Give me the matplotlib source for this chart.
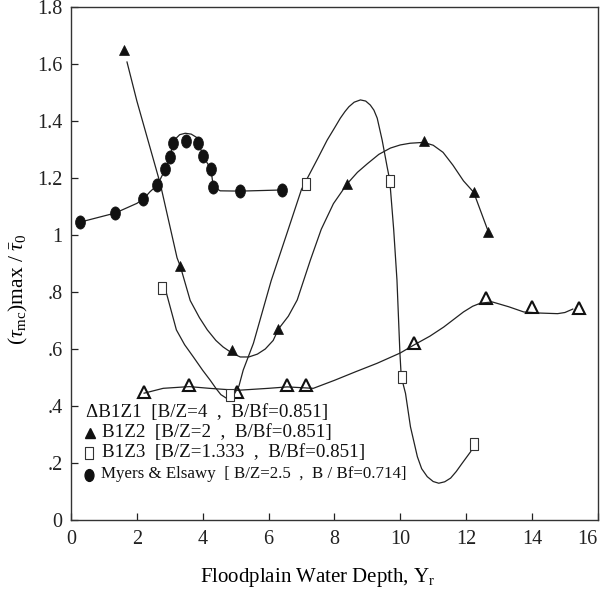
import numpy as np
import matplotlib
matplotlib.use("Agg")
import matplotlib.pyplot as plt
from matplotlib.path import Path
from matplotlib.markers import MarkerStyle

plt.rcParams['font.family'] = ['Liberation Serif', 'DejaVu Serif']
plt.rcParams['mathtext.fontset'] = 'custom'
plt.rcParams['mathtext.rm'] = 'Liberation Serif'
plt.rcParams['mathtext.it'] = 'Liberation Serif:italic'
plt.rcParams['mathtext.bf'] = 'Liberation Serif:bold'

# measured points (markers)
b1z1_x = [2.22, 3.59, 5.05, 6.57, 7.15, 10.43, 12.59, 13.99, 15.42]
b1z1_y = [0.449, 0.474, 0.449, 0.474, 0.474, 0.62, 0.778, 0.747, 0.744]

b1z2_x = [1.61, 3.32, 4.90, 6.30, 8.39, 10.71, 12.23, 12.68]
b1z2_y = [1.65, 0.89, 0.596, 0.67, 1.18, 1.33, 1.151, 1.01]

b1z3_x = [2.77, 4.84, 7.15, 9.70, 10.04, 12.23]
b1z3_y = [0.813, 0.44, 1.18, 1.19, 0.503, 0.266]

myers_x = [0.27, 1.34, 2.20, 2.62, 2.86, 3.01, 3.09, 3.49, 3.87, 4.01, 4.25, 4.32, 5.14, 6.42]
myers_y = [1.045, 1.077, 1.126, 1.175, 1.23, 1.274, 1.323, 1.33, 1.323, 1.277, 1.231, 1.17, 1.154, 1.158]

# fitted curves
b1z1_cx = [2.22, 2.8, 3.59, 4.2, 5.05, 6.0, 6.57, 7.36, 8.0, 8.64, 9.3, 10.0, 10.43, 10.9,
           11.32, 11.92, 12.2, 12.44, 12.8, 13.3, 13.75, 14.27, 14.78, 15.0, 15.24]
b1z1_cy = [0.445, 0.462, 0.468, 0.462, 0.455, 0.462, 0.467, 0.462, 0.49, 0.52, 0.55, 0.586,
           0.615, 0.645, 0.677, 0.73, 0.75, 0.761, 0.765, 0.748, 0.73, 0.726, 0.724, 0.728, 0.74]

b1z2_cx = [1.70, 2.0, 2.71, 3.22, 3.32, 3.62, 3.9, 4.14, 4.4, 4.62, 4.9, 5.14, 5.4, 5.66,
           5.9, 6.14, 6.3, 6.6, 6.87, 7.07, 7.27, 7.6, 7.97, 8.39, 8.7, 9.0, 9.35, 9.7,
           10.0, 10.3, 10.71, 11.0, 11.3, 11.6, 11.92, 12.23, 12.68]
b1z2_cy = [1.607, 1.47, 1.18, 0.92, 0.89, 0.77, 0.71, 0.667, 0.63, 0.607, 0.585, 0.572,
           0.572, 0.582, 0.6, 0.63, 0.67, 0.715, 0.772, 0.842, 0.912, 1.02, 1.11, 1.18,
           1.22, 1.25, 1.283, 1.305, 1.316, 1.322, 1.325, 1.315, 1.29, 1.245, 1.19, 1.15, 1.01]

b1z3_cx = [2.9, 3.2, 3.45, 3.71, 4.0, 4.23, 4.4, 4.55, 4.75, 4.95, 5.1, 5.23, 5.54, 6.08,
           6.57, 7.0, 7.15, 7.5, 7.78, 8.0, 8.18, 8.32, 8.44, 8.6, 8.79, 8.95, 9.09, 9.2,
           9.3, 9.45, 9.6, 9.68, 9.8, 9.9, 9.99, 10.03, 10.16, 10.31, 10.52, 10.65, 10.82,
           11.0, 11.17, 11.35, 11.53, 11.7, 11.88, 12.14, 12.22]
b1z3_cy = [0.795, 0.667, 0.615, 0.573, 0.525, 0.49, 0.462, 0.44, 0.425, 0.44, 0.47, 0.526,
           0.62, 0.84, 1.01, 1.16, 1.193, 1.27, 1.333, 1.375, 1.41, 1.433, 1.45, 1.466,
           1.474, 1.47, 1.456, 1.438, 1.41, 1.333, 1.24, 1.193, 1.02, 0.842, 0.585, 0.503,
           0.444, 0.327, 0.222, 0.18, 0.152, 0.135, 0.129, 0.134, 0.147, 0.17, 0.199,
           0.24, 0.266]

myers_cx = [0.27, 1.34, 2.0, 2.2, 2.4, 2.62, 2.86, 3.01, 3.11, 3.3, 3.47, 3.65, 3.82, 4.01,
            4.25, 4.32, 4.53, 5.14, 6.42]
myers_cy = [1.045, 1.077, 1.111, 1.126, 1.152, 1.175, 1.23, 1.274, 1.33, 1.352, 1.357,
            1.354, 1.342, 1.277, 1.231, 1.17, 1.155, 1.154, 1.158]

xticks = [0, 2, 4, 6, 8, 10, 12, 14, 16]
yticks = [0, 0.2, 0.4, 0.6, 0.8, 1.0, 1.2, 1.4, 1.6, 1.8]
ytick_labels = ['0', '.2', '.4', '.6', '.8', '1', '1.2', '1.4', '1.6', '1.8']

# custom markers: tall rectangle and tall ellipse
rect = Path([(-0.32, -0.5), (0.32, -0.5), (0.32, 0.5), (-0.32, 0.5), (-0.32, -0.5)],
            [Path.MOVETO, Path.LINETO, Path.LINETO, Path.LINETO, Path.CLOSEPOLY])
circ = Path.unit_circle()
ellipse = Path(circ.vertices * np.array([0.75, 1.0]), circ.codes)
rect_m = MarkerStyle(rect)
ell_m = MarkerStyle(ellipse)

fig = plt.figure(figsize=(6.02, 5.94), dpi=100)
ax = fig.add_axes([0.118, 0.1246, 0.875, 0.8636])

lw = 0.9
ax.plot(b1z1_cx, b1z1_cy, color='#222222', lw=lw)
ax.plot(b1z2_cx, b1z2_cy, color='#222222', lw=lw)
ax.plot(b1z3_cx, b1z3_cy, color='#222222', lw=lw)
ax.plot(myers_cx, myers_cy, color='#222222', lw=lw)

ax.plot(b1z1_x, b1z1_y, ls='none', marker='^', ms=9, mfc='none', mec='#111111', mew=1.5)
ax.plot(b1z2_x, b1z2_y, ls='none', marker='^', ms=7.5, mfc='#111111', mec='#111111', mew=0.5)
ax.plot(b1z3_x, b1z3_y, ls='none', marker=rect_m, ms=8.5, mfc='white', mec='#333333', mew=0.8)
ax.plot(myers_x, myers_y, ls='none', marker=ell_m, ms=9.5, mfc='#111111', mec='#111111', mew=0.5)

ax.set_xlim(0, 16)
ax.set_ylim(0, 1.8)
ax.set_xticks(xticks)
ax.set_xticklabels([str(v) for v in xticks])
ax.set_yticks(yticks)
ax.set_yticklabels(ytick_labels)
ax.tick_params(direction='in', length=5, width=0.9, labelsize=14.5, colors='#222222',
               top=False, right=False)
ax.tick_params(axis='x', pad=7)
ax.tick_params(axis='y', pad=6)
ax.get_xticklabels()[-1].set_horizontalalignment('right')
for s in ax.spines.values():
    s.set_linewidth(1.0)
    s.set_color('#333333')

ax.set_xlabel('Floodplain Water Depth, Y$_\\mathrm{r}$', fontsize=15)
ax.xaxis.set_label_coords(0.468, -0.09)
ax.set_ylabel('$(\\tau_{\\mathrm{mc}})\\mathrm{max}\\ /\\ \\bar{\\tau}_0$', fontsize=15.5)
ax.yaxis.set_label_coords(-0.078, 0.45)

# legend drawn as text
tk = dict(transform=ax.transAxes, va='center', ha='left', color='#111111')
ax.text(0.029, 0.2105, '\u0394B1Z1  [B/Z=4  ,  B/Bf=0.851]', fontsize=13.7, **tk)
ax.plot([0.036], [0.1705], transform=ax.transAxes, ls='none', marker='^', ms=7,
        mfc='#111111', mec='#111111', clip_on=False)
ax.text(0.059, 0.1715, 'B1Z2  [B/Z=2  ,  B/Bf=0.851]', fontsize=13.7, **tk)
ax.plot([0.034], [0.1306], transform=ax.transAxes, ls='none', marker=rect_m, ms=8,
        mfc='white', mec='#333333', mew=0.8, clip_on=False)
ax.text(0.059, 0.1315, 'B1Z3  [B/Z=1.333  ,  B/Bf=0.851]', fontsize=13.7, **tk)
ax.plot([0.034], [0.0877], transform=ax.transAxes, ls='none', marker=ell_m, ms=8.5,
        mfc='#111111', mec='#111111', clip_on=False)
ax.text(0.056, 0.0887, 'Myers & Elsawy  [ B/Z=2.5  ,  B / Bf=0.714]', fontsize=12.2, **tk)

fig.savefig('out.png', dpi=100)
